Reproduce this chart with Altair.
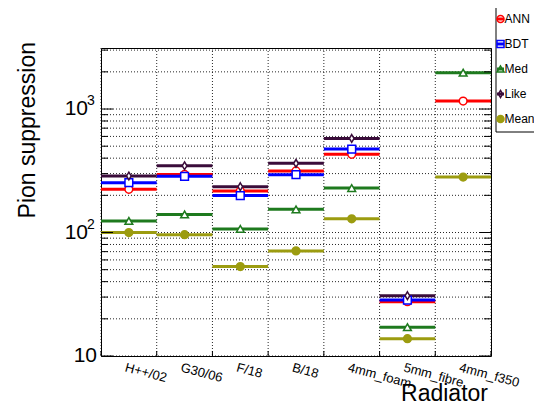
import altair as alt
import pandas as pd

categories = ["H++/02", "G30/06", "F/18", "B/18", "4mm_foam", "5mm_fibre", "4mm_f350"]
series_names = ["ANN", "BDT", "Med", "Like", "Mean"]
ann = [224, 295, 217, 315, 430, 27.5, 1160]
bdt = [253, 285, 199, 294, 474, 28.4, None]
med = [124, 140, 107, 154, 229, 17.1, 1970]
like = [287, 347, 235, 363, 578, 30.8, None]
mean = [100, 96, 53, 71, 129, 13.8, 281]

major_ticks = [10, 100, 1000]
major_base = ["10", "10", "10"]
major_exp = ["", "2", "3"]
minor_ticks = [20, 30, 40, 50, 60, 70, 80, 90, 200, 300, 400, 500, 600, 700, 800, 900, 2000, 3000]

colors = ["#ff0000", "#0000ff", "#1e7a1e", "#3a0c3a", "#9c9c10"]
shapes = ["circle", "square", "triangle-up", "M0,-1L0.6,0L0,1L-0.6,0Z", "circle"]
fills = ["white", "white", "white", "white", "#9c9c10"]

rows = []
for name, vals in zip(series_names, [ann, bdt, med, like, mean]):
    for i, v in enumerate(vals):
        if v is None:
            continue
        rows.append({"series": name, "cat": categories[i], "lo": i, "hi": i + 1,
                     "mid": i + 0.5, "value": v})
df = pd.DataFrame(rows)
cat_df = pd.DataFrame({"cat": categories, "mid": [i + 0.5 for i in range(len(categories))]})
tick_df = pd.DataFrame({"tv": major_ticks + minor_ticks,
                        "kind": ["major"] * len(major_ticks) + ["minor"] * len(minor_ticks)})
lab_df = pd.DataFrame({"tv": major_ticks, "base": major_base, "exp": major_exp})
edge_df = pd.DataFrame({"edge": list(range(len(categories) + 1))})
leg_df = pd.DataFrame({"series": series_names})

W, H = 390, 308
FONT = "Liberation Sans"
yscale = alt.Scale(type="log", domain=[10, 3120], nice=False)
xscale = alt.Scale(domain=[0, 7], nice=False, zero=False)
stroke_enc = alt.Stroke("series:N", scale=alt.Scale(domain=series_names, range=colors), legend=None)
shape_enc = alt.Shape("series:N", scale=alt.Scale(domain=series_names, range=shapes), legend=None)
fill_enc = alt.Fill("series:N", scale=alt.Scale(domain=series_names, range=fills), legend=None)


def Y(field):
    return alt.Y(field, scale=yscale, axis=None)


def X(field):
    return alt.X(field, scale=xscale, axis=None)


grid_y = alt.Chart(tick_df).mark_rule(strokeDash=[1, 2], color="black", strokeWidth=1,
                                      opacity=0.85).encode(
    x=alt.value(0), x2=alt.value(W), y=Y("tv:Q"))
grid_x = alt.Chart(edge_df).mark_rule(strokeDash=[1, 2], color="black", strokeWidth=1,
                                      opacity=0.85).encode(
    x=X("edge:Q"), y=alt.value(0), y2=alt.value(H))
xticks = alt.Chart(edge_df).mark_rule(color="black", strokeWidth=1).encode(
    x=X("edge:Q"), y=alt.value(H - 5), y2=alt.value(H))

segments = alt.Chart(df).mark_rule(strokeWidth=3).encode(
    x=X("lo:Q"), x2="hi:Q", y=Y("value:Q"), stroke=stroke_enc)

points = alt.Chart(df).mark_point(size=60, strokeWidth=1.5, opacity=1).encode(
    x=X("mid:Q"), y=Y("value:Q"), stroke=stroke_enc, shape=shape_enc, fill=fill_enc)


def tick_layer(kind, x0, x1):
    return alt.Chart(tick_df).transform_filter(alt.datum.kind == kind).mark_rule(
        color="black", strokeWidth=1).encode(x=alt.value(x0), x2=alt.value(x1), y=Y("tv:Q"))


ticks = [tick_layer("major", 0, 12), tick_layer("minor", 0, 7),
         tick_layer("major", W - 12, W), tick_layer("minor", W - 7, W)]

ylab_plain = alt.Chart(lab_df).transform_filter(alt.datum.exp == "").mark_text(
    align="right", baseline="middle", fontSize=21, font=FONT, color="black").encode(
    x=alt.value(-4), y=Y("tv:Q"), text="base:N")
ylab_base = alt.Chart(lab_df).transform_filter(alt.datum.exp != "").mark_text(
    align="right", baseline="middle", fontSize=21, font=FONT, color="black").encode(
    x=alt.value(-13), y=Y("tv:Q"), text="base:N")
ylab_exp = alt.Chart(lab_df).transform_filter(alt.datum.exp != "").mark_text(
    align="left", baseline="middle", fontSize=14, font=FONT, color="black", dy=-8).encode(
    x=alt.value(-14), y=Y("tv:Q"), text="exp:N")

xlabels = alt.Chart(cat_df).mark_text(angle=15, align="left", baseline="top", fontSize=13,
                                      font=FONT, color="black", dx=-2).encode(
    x=X("mid:Q"), y=alt.value(H + 6), text="cat:N")

xtitle = alt.Chart(pd.DataFrame({"t": ["Radiator"]})).mark_text(
    align="right", baseline="alphabetic", fontSize=23, font=FONT, color="black").encode(
    x=alt.value(W - 3), y=alt.value(H + 45), text="t:N")

ytitle = alt.Chart(pd.DataFrame({"t": ["Pion suppression"]})).mark_text(
    angle=270, align="right", baseline="alphabetic", fontSize=23, font=FONT, color="black").encode(
    x=alt.value(-66), y=alt.value(-6), text="t:N")

# legend (positions are layout only)
LEG_TOP = -29
LEG_STEP = 25
leg_box = alt.Chart(pd.DataFrame({"k": [0]})).mark_rect(
    fill="white", stroke="black", strokeWidth=1).encode(
    x=alt.value(395), x2=alt.value(470), y=alt.value(-41), y2=alt.value(84))
leg_layers = [leg_box]
for k, name in enumerate(series_names):
    base = alt.Chart(leg_df).transform_filter(alt.datum.series == name)
    yy = alt.value(LEG_TOP + k * LEG_STEP)
    leg_layers.append(base.mark_point(size=50, strokeWidth=1.5, opacity=1).encode(
        x=alt.value(399.5), y=yy, stroke=stroke_enc, shape=shape_enc, fill=fill_enc))
    leg_layers.append(base.mark_rule(strokeWidth=3).encode(
        x=alt.value(396), x2=alt.value(403), y=yy, stroke=stroke_enc))
    leg_layers.append(base.mark_text(align="left", baseline="middle", fontSize=12, font=FONT,
                                     color="black").encode(
        x=alt.value(403.5), y=yy, text="series:N"))

chart = alt.layer(grid_y, grid_x, xticks, segments, points, *ticks, ylab_plain, ylab_base,
                  ylab_exp, xlabels, xtitle, ytitle, *leg_layers).properties(
    width=W, height=H,
    padding={"left": 93, "top": 40, "right": 43, "bottom": 50},
    autosize=alt.AutoSizeParams(type="none"),
    background="white",
).configure_view(stroke="black", strokeWidth=1)

chart.save("out.html", embed_options={"renderer": "svg", "actions": False})
